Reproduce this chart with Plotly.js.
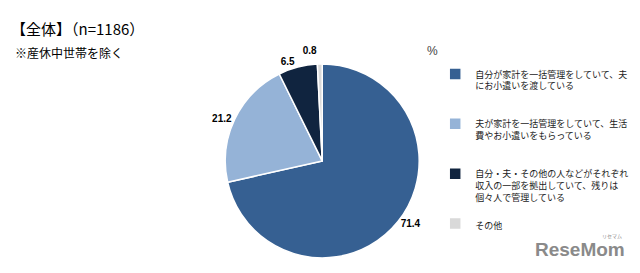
<!DOCTYPE html>
<html><head><meta charset="utf-8">
<script src="https://cdn.plot.ly/plotly-3.0.1.min.js"></script>
<style>html,body{margin:0;padding:0;background:#fff}#chart{width:640px;height:273px}</style>
</head><body><div id="chart"></div>
<script>
const categories = [
  "自分が家計を一括管理をしていて、夫<br>にお小遣いを渡している<br>\u00a0<br>\u00a0",
  "夫が家計を一括管理をしていて、生活<br>費やお小遣いをもらっている<br>\u00a0<br>\u00a0",
  "自分・夫・その他の人などがそれぞれ<br>収入の一部を拠出していて、残りは<br>個々人で管理している<br>\u00a0",
  "その他"
];
const values = [71.4, 21.2, 6.5, 0.8];
const colors = ["#366092", "#95B3D7", "#10243F", "#D9D9D9"];

const jp = '"Noto Sans CJK JP", "Noto Sans", sans-serif';

const data = [{
  type: 'pie',
  labels: categories,
  values: values,
  sort: false,
  direction: 'clockwise',
  rotation: 0,
  marker: {colors: colors, line: {color: '#ffffff', width: 1.5}},
  textinfo: 'value',
  texttemplate: '%{value:.1f}',
  textposition: 'outside',
  outsidetextfont: {family: '"Liberation Sans", Arial, sans-serif', size: 10, color: '#000000', weight: 'bold'},
  hoverinfo: 'none',
  domain: {x: [0.352, 0.655], y: [0.055, 0.766]}
}];

const layout = {
  width: 640, height: 273,
  margin: {l: 0, r: 0, t: 0, b: 0},
  paper_bgcolor: '#ffffff',
  showlegend: true,
  title: {
    text: '【全体】（n=1186）',
    x: 11/640, xanchor: 'left', y: 1 - 30/273, yanchor: 'middle',
    font: {family: jp, size: 15, color: '#000000'}
  },
  legend: {
    x: 0.68, xanchor: 'left', y: 0.774, yanchor: 'top',
    valign: 'top',
    font: {family: jp, size: 9, color: '#1a1a1a'},
    bgcolor: 'rgba(0,0,0,0)'
  },
  annotations: [
    {text: '※産休中世帯を除く', xref: 'paper', yref: 'paper', x: 0.02, y: 1 - 52/273,
     xanchor: 'left', yanchor: 'middle', showarrow: false,
     font: {family: jp, size: 12, color: '#000000'}},
    {text: '%', xref: 'paper', yref: 'paper', x: 432/640, y: 1 - 51/273,
     xanchor: 'center', yanchor: 'middle', showarrow: false,
     font: {family: '"Liberation Sans", Arial, sans-serif', size: 12, color: '#444444'}},
    {text: '<b>ReseMom</b>', xref: 'paper', yref: 'paper', x: 580/640, y: 1 - 249/273,
     xanchor: 'center', yanchor: 'middle', showarrow: false,
     font: {family: '"Liberation Sans", Arial, sans-serif', size: 19, color: '#8a8a8a'}},
    {text: 'リセマム', xref: 'paper', yref: 'paper', x: 612/640, y: 1 - 236/273,
     xanchor: 'center', yanchor: 'middle', showarrow: false,
     font: {family: jp, size: 5, color: '#8a8a8a'}}
  ]
};

Plotly.newPlot('chart', data, layout, {displayModeBar: false, staticPlot: true}).then(function(gd){
  gd.querySelectorAll('path.textline').forEach(function(p){ p.style.display = 'none'; });
});
</script>
</body></html>
